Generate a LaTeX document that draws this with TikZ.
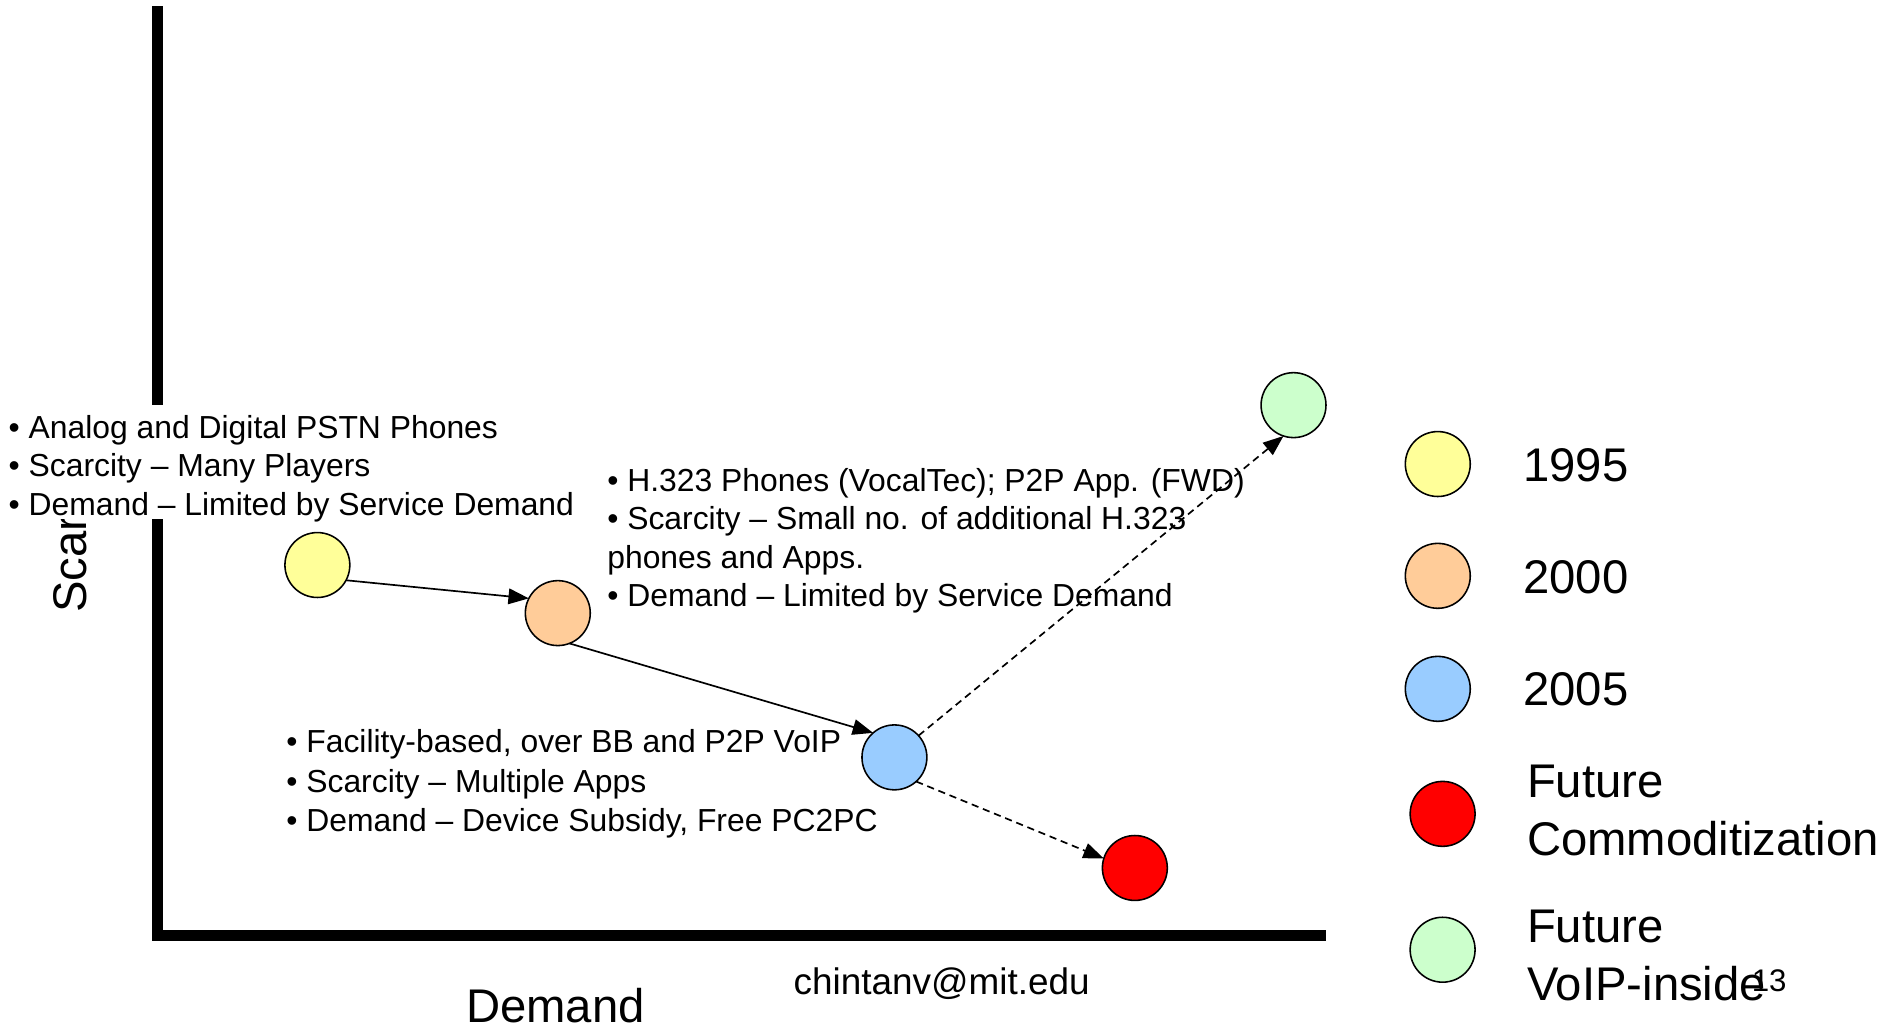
\documentclass[tikz,border=0pt]{standalone}
\usepackage{fontspec}
\setmainfont{Liberation Sans}
\usetikzlibrary{arrows.meta}
\definecolor{c95}{HTML}{FFFF99}
\definecolor{c00}{HTML}{FFCC99}
\definecolor{c05}{HTML}{99CCFF}
\definecolor{cfr}{HTML}{FF0000}
\definecolor{cfv}{HTML}{CCFFCC}
\begin{document}
\begin{tikzpicture}[x=1pt,y=-1pt,
  dot/.style={circle,draw=black,line width=1.3pt,minimum size=54pt,inner sep=0pt,outer sep=0pt},
  body/.style={font=\fontsize{26.5}{32}\selectfont,align=left,inner sep=0pt,anchor=west},
  legend/.style={font=\fontsize{39.3}{48}\selectfont,align=left,inner sep=0pt},
  axisline/.style={line width=9pt},
  link/.style={line width=1.4pt,-{Triangle[length=17pt,width=13pt]}},
  dlink/.style={link,dash pattern=on 6pt off 4pt},
  ]
\useasboundingbox (0,0) rectangle (1568,856);

% axes
\coordinate (ytop) at (131,5);
\coordinate (ybot) at (131,782.5);
\coordinate (xleft) at (126.5,778);
\coordinate (xright) at (1103,778);
\draw[axisline] (ytop) -- (ybot);
\draw[axisline] (xleft) -- (xright);

% axis titles
\node[legend,anchor=base west,rotate=90] (scarcity) at (72,510) {Scarcity};
\node[legend,anchor=base] (demand) at (462,850.5) {Demand};

% 1995 annotation, on a white patch that hides the axis behind it
\fill[white] (0,337) rectangle (482,432);
\node[body] (t95) at (7,389.6)
  {• Analog and Digital PSTN Phones\\
   • Scarcity – Many Players\\
   • Demand – Limited by Service Demand};

% 2000 annotation
\node[body] (t00) at (505,449.7)
  {• H.323 Phones (VocalTec); P2P App. (FWD)\\
   • Scarcity – Small no. of additional H.323\\
   phones and Apps.\\
   • Demand – Limited by Service Demand};

% 2005 annotation
\node[body,font=\fontsize{26.5}{32.5}\selectfont] (t05) at (238,652)
  {• Facility-based, over BB and P2P VoIP\\
   • Scarcity – Multiple Apps\\
   • Demand – Device Subsidy, Free PC2PC};

% milestones
\node[dot,fill=c95] (p95) at (264,470) {};
\node[dot,fill=c00] (p00) at (464,510) {};
\node[dot,fill=c05] (p05) at (744,630) {};
\node[dot,fill=cfr] (pfr) at (944,722) {};
\node[dot,fill=cfv] (pfv) at (1076,337) {};

% transitions
\draw[link] (p95.-28) -- (p00.153);
\draw[link] (p00.-69) -- (p05.131);
\draw[dlink] (p05.42) -- (pfv.-108);
\draw[dlink] (p05.-48) -- (pfr.163);

% legend
\node[dot,fill=c95] (l95) at (1196,386) {};
\node[dot,fill=c00] (l00) at (1196,479) {};
\node[dot,fill=c05] (l05) at (1196,573) {};
\node[dot,fill=cfr] (lfr) at (1200,677) {};
\node[dot,fill=cfv] (lfv) at (1200,790) {};
\node[legend,anchor=base west] (k95) at (1267,400.8) {1995};
\node[legend,anchor=base west] (k00) at (1267,493.8) {2000};
\node[legend,anchor=base west] (k05) at (1267,586.8) {2005};
\node[legend,anchor=west] (kfr) at (1270,674) {Future\\Commoditization};
\node[legend,anchor=west] (kfv) at (1270,794.5) {Future\\VoIP-inside};

% footer
\node[font=\fontsize{30.7}{36}\selectfont,anchor=base west,inner sep=0pt] (mail) at (660,827) {chintanv@mit.edu};
\node[font=\fontsize{26}{30}\selectfont,anchor=base west,inner sep=0pt] (page) at (1457,825) {13};
\end{tikzpicture}
\end{document}
